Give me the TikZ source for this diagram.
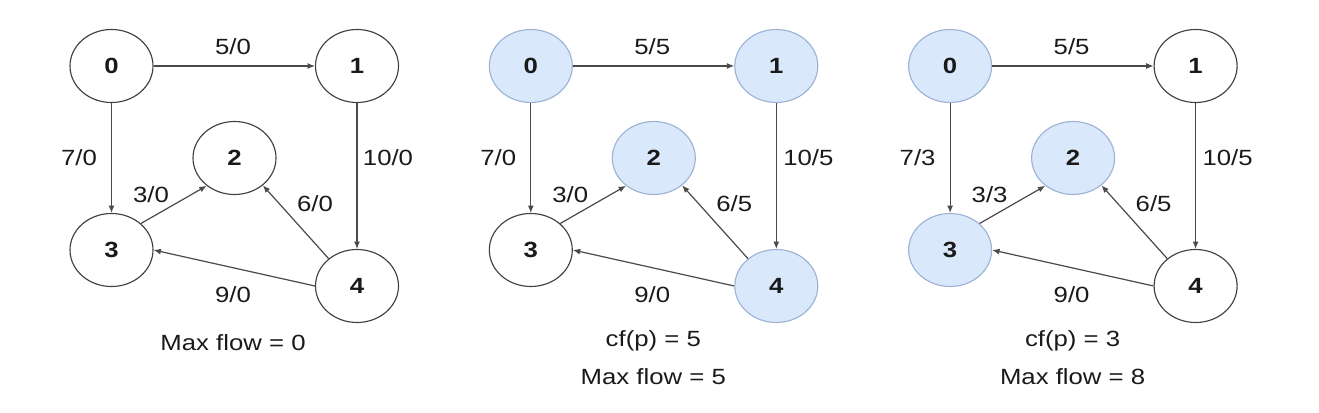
\documentclass[tikz,border=0pt]{standalone}
\usepackage{fontspec}
\setmainfont{Liberation Sans}[FakeStretch=1.17]
\usetikzlibrary{shapes.geometric,arrows.meta}
\definecolor{bfill}{HTML}{DAE8FC}
\definecolor{bdraw}{HTML}{9DB2D4}
\definecolor{edgec}{HTML}{4A4A4A}
\definecolor{txt}{HTML}{1A1A1A}
\begin{document}
\begin{tikzpicture}[x=0.75pt,y=-0.75pt,
  vtx/.style={ellipse, draw=black!75, line width=0.85pt, minimum width=62.25pt, minimum height=54.75pt, inner sep=0pt, font=\fontsize{16.5}{19}\selectfont\bfseries, text=txt, fill=white},
  hot/.style={vtx, fill=bfill, draw=bdraw},
  lbl/.style={font=\fontsize{16.5}{19}\selectfont, text=txt, inner sep=0pt},
  arr/.style={draw=edgec, line width=0.9pt, -{Latex[length=5.5pt,width=4.5pt]}}]
\useasboundingbox (0,0) rectangle (1319,413);
% ---------- graph 1 ----------
\begin{scope}
\node[vtx] (a0) at (111.5,66) {0};
\node[vtx] (a1) at (357,66) {1};
\node[vtx] (a2) at (234.5,158) {2};
\node[vtx] (a3) at (111.5,250) {3};
\node[vtx] (a4) at (357,286) {4};
\draw[arr] (a0) -- (a1);
\draw[arr] (a0) -- (a3);
\draw[arr] (a1) -- (a4);
\draw[arr] (a3.42) -- (a2.225);
\draw[arr] (a4.136) -- (a2.-44);
\draw[arr] (a4.west) -- (a3.east);
\node[lbl] (a01) at (233,47) {5/0};
\node[lbl] (a03) at (79,158) {7/0};
\node[lbl] (a14) at (388,158) {10/0};
\node[lbl] (a32) at (151,195) {3/0};
\node[lbl] (a42) at (315,204) {6/0};
\node[lbl] (a43) at (233,295) {9/0};
\node[lbl] (amax) at (233,343) {Max flow = 0};
\end{scope}
% ---------- graph 2 ----------
\begin{scope}[shift={(419.3,0)}]
\node[hot] (b0) at (111.5,66) {0};
\node[hot] (b1) at (357,66) {1};
\node[hot] (b2) at (234.5,158) {2};
\node[vtx] (b3) at (111.5,250) {3};
\node[hot] (b4) at (357,286) {4};
\draw[arr] (b0) -- (b1);
\draw[arr] (b0) -- (b3);
\draw[arr] (b1) -- (b4);
\draw[arr] (b3.42) -- (b2.225);
\draw[arr] (b4.136) -- (b2.-44);
\draw[arr] (b4.west) -- (b3.east);
\node[lbl] (b01) at (233,47) {5/5};
\node[lbl] (b03) at (79,158) {7/0};
\node[lbl] (b14) at (389,158) {10/5};
\node[lbl] (b32) at (151,195) {3/0};
\node[lbl] (b42) at (315,204) {6/5};
\node[lbl] (b43) at (233,295) {9/0};
\node[lbl] (bcf) at (234,341) {cf(p) = 5};
\node[lbl] (bmax) at (234,377) {Max flow = 5};
\end{scope}
% ---------- graph 3 ----------
\begin{scope}[shift={(838.6,0)}]
\node[hot] (c0) at (111.5,66) {0};
\node[vtx] (c1) at (357,66) {1};
\node[hot] (c2) at (234.5,158) {2};
\node[hot] (c3) at (111.5,250) {3};
\node[vtx] (c4) at (357,286) {4};
\draw[arr] (c0) -- (c1);
\draw[arr] (c0) -- (c3);
\draw[arr] (c1) -- (c4);
\draw[arr] (c3.42) -- (c2.225);
\draw[arr] (c4.136) -- (c2.-44);
\draw[arr] (c4.west) -- (c3.east);
\node[lbl] (c01) at (233,47) {5/5};
\node[lbl] (c03) at (79,158) {7/3};
\node[lbl] (c14) at (389,158) {10/5};
\node[lbl] (c32) at (151,195) {3/3};
\node[lbl] (c42) at (315,204) {6/5};
\node[lbl] (c43) at (233,295) {9/0};
\node[lbl] (ccf) at (234,341) {cf(p) = 3};
\node[lbl] (cmax) at (234,377) {Max flow = 8};
\end{scope}
\end{tikzpicture}
\end{document}
